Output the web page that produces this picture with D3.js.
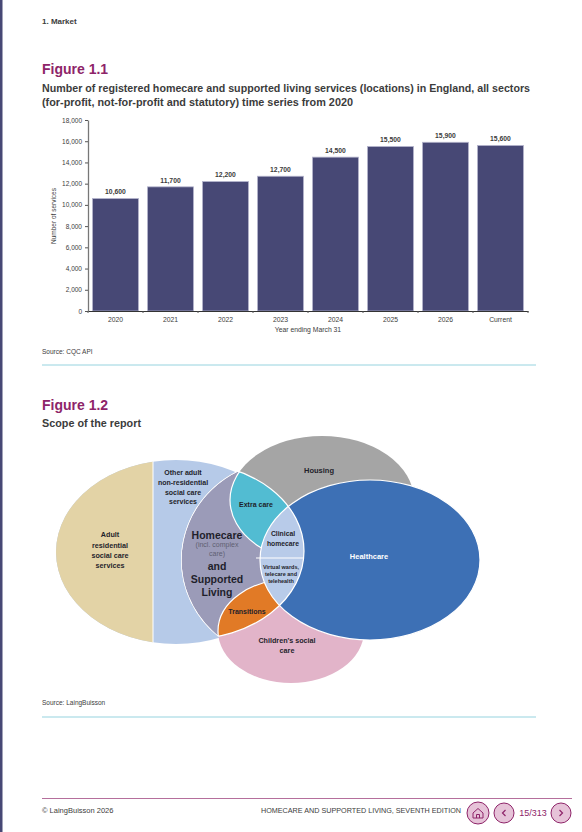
<!DOCTYPE html>
<html>
<head>
<meta charset="utf-8">
<script src="https://cdn.jsdelivr.net/npm/d3@7"></script>
<style>
  html, body { margin: 0; padding: 0; background: #fff; }
  svg { display: block; }
  text { font-family: "Liberation Sans Narrow", "Liberation Sans", sans-serif; fill: #3c3c3c; }
</style>
</head>
<body>
<svg id="page" width="582" height="832"></svg>
<script>
const years = ['2020', '2021', '2022', '2023', '2024', '2025', '2026', 'Current'];
const services = [10600, 11700, 12200, 12700, 14500, 15500, 15900, 15600];
const yTicks = [0, 2000, 4000, 6000, 8000, 10000, 12000, 14000, 16000, 18000];

// venn outlines, in diagram units
const adult = { cx: 120, cy: 116, rx: 120, ry: 92 };
const housing = { cx: 266, cy: 64, rx: 92, ry: 64 };
const children = { cx: 235, cy: 195, rx: 73, ry: 52 };
const healthcare = { cx: 314, cy: 124, rx: 110, ry: 80 };
const homeLeft = { cx: 229, cy: 124, rx: 104, ry: 100 };
const homeRight = { cx: 134, cy: 115, rx: 114, ry: 88 };
const adultSplit = 97;

const navy = '#474875', plum = '#8e2469', teal = '#96d3df';
const svg = d3.select('#page');

svg.append('rect').attr('width', 2.5).attr('height', 832).attr('fill', navy);

function label(parent, str, x, y, size, opts = {}) {
  const t = parent.append('text')
    .attr('x', x).attr('y', y)
    .attr('dy', '0.35em')
    .attr('text-anchor', opts.anchor || 'middle')
    .attr('font-size', size)
    .attr('font-weight', opts.weight || 'normal')
    .style('fill', opts.fill || '#3c3c3c')
    .text(str);
  if (opts.fit) t.attr('textLength', opts.fit).attr('lengthAdjust', 'spacingAndGlyphs');
  return t;
}
const bold = { weight: 'bold' };
const leftBold = { anchor: 'start', weight: 'bold' };

label(svg, '1. Market', 42, 21.5, 8, leftBold);
label(svg, 'Figure 1.1', 42, 69, 14, { anchor: 'start', weight: 'bold', fill: plum });
label(svg, 'Number of registered homecare and supported living services (locations) in England, all sectors', 42, 87.5, 11.5, { anchor: 'start', weight: 'bold', fit: 488 });
label(svg, '(for-profit, not-for-profit and statutory) time series from 2020', 42, 102, 11.5, { anchor: 'start', weight: 'bold', fit: 311 });

// bar chart
const x = d3.scaleBand().domain(years).range([88, 528]).paddingInner(0.164).paddingOuter(0.082);
const y = d3.scaleLinear().domain([0, 18000]).range([311, 120]);

const yAxis = svg.append('g').attr('transform', 'translate(88,0)')
  .call(d3.axisLeft(y).tickValues(yTicks).tickSize(3).tickSizeOuter(0).tickFormat(d3.format(',')));
yAxis.select('.domain').attr('stroke', '#777').attr('stroke-width', 1.3);
yAxis.selectAll('.tick line').attr('stroke', '#555');
yAxis.selectAll('text').attr('font-size', 6.5).attr('font-family', null).attr('x', -6);

svg.selectAll('rect.bar').data(services).enter().append('rect')
  .attr('class', 'bar')
  .attr('x', (d, i) => x(years[i]))
  .attr('y', d => y(d))
  .attr('width', x.bandwidth())
  .attr('height', d => y(0) - y(d))
  .attr('fill', navy)
  .attr('stroke', '#b4b4cc')
  .attr('stroke-width', 0.8);

const xAxis = svg.append('g').attr('transform', 'translate(0,311)')
  .call(d3.axisBottom(x).tickSize(0));
xAxis.select('.domain').attr('stroke', '#333').attr('stroke-width', 1.2);
xAxis.selectAll('text').attr('font-size', 6.8).attr('dy', 0).attr('y', 10.5);
svg.selectAll('line.xtick').data(d3.range(years.length + 1)).enter().append('line')
  .attr('class', 'xtick')
  .attr('x1', i => 88 + i * x.step()).attr('x2', i => 88 + i * x.step())
  .attr('y1', 311).attr('y2', 313)
  .attr('stroke', '#555');

services.forEach((d, i) => {
  label(svg, d3.format(',')(d), x(years[i]) + x.bandwidth() / 2, y(d) - 6.5, 6.8, bold);
});
label(svg, 'Year ending March 31', 308, 329.5, 6.8);
label(svg, 'Number of services', 0, 0, 6.5).attr('transform', 'translate(54,216) rotate(-90)');
label(svg, 'Source: CQC API', 42, 351.5, 6.5, { anchor: 'start' });
svg.append('line').attr('x1', 42).attr('x2', 536).attr('y1', 365).attr('y2', 365).attr('stroke', teal).attr('stroke-width', 1);

// venn
label(svg, 'Figure 1.2', 42, 405, 14, { anchor: 'start', weight: 'bold', fill: plum });
label(svg, 'Scope of the report', 42, 423, 11.5, { anchor: 'start', weight: 'bold', fit: 99 });

const vx = d3.scaleLinear().domain([0, 424]).range([56, 480]);
const vy = d3.scaleLinear().domain([0, 247]).range([436, 683]);
const defs = svg.append('defs');

function drawEllipse(parent, e) {
  return parent.append('ellipse')
    .attr('cx', vx(e.cx)).attr('cy', vy(e.cy))
    .attr('rx', e.rx).attr('ry', e.ry);
}

drawEllipse(defs.append('clipPath').attr('id', 'clip-left'), homeLeft);
drawEllipse(defs.append('clipPath').attr('id', 'clip-right').attr('clip-path', 'url(#clip-left)'), homeRight);
defs.append('clipPath').attr('id', 'clip-adult-split').append('rect')
  .attr('x', vx(adult.cx - adult.rx)).attr('y', vy(0))
  .attr('width', vx(adultSplit) - vx(adult.cx - adult.rx)).attr('height', vy(247) - vy(0));

const venn = svg.append('g');
function paint(sel, fill) {
  return sel.attr('fill', fill).attr('stroke', '#fff').attr('stroke-width', 1.2);
}

paint(drawEllipse(venn, adult), '#b6cae8').attr('stroke', 'none');
drawEllipse(venn.append('g').attr('clip-path', 'url(#clip-adult-split)'), adult).attr('fill', '#e3d3a6');
venn.append('line')
  .attr('x1', vx(adultSplit)).attr('x2', vx(adultSplit)).attr('y1', vy(20)).attr('y2', vy(215))
  .attr('stroke', '#fff').attr('stroke-width', 1);
paint(drawEllipse(venn, housing), '#a5a5a5').attr('stroke', 'none');
paint(drawEllipse(venn, children), '#e2b4c9').attr('stroke', 'none');
paint(drawEllipse(venn, healthcare), '#3d70b5');

const inHome = venn.append('g').attr('clip-path', 'url(#clip-right)');
paint(drawEllipse(inHome, homeLeft), '#9b9bb8');
paint(drawEllipse(inHome, housing), '#52bcd2');
paint(drawEllipse(inHome, children), '#e17a26');
paint(drawEllipse(inHome, healthcare), '#b8cbe9');
inHome.append('line')
  .attr('x1', vx(200)).attr('x2', vx(250)).attr('y1', 558).attr('y2', 558)
  .attr('stroke', '#fff').attr('stroke-width', 1.2);
// white outline around the homecare shape
drawEllipse(venn.append('g').attr('clip-path', 'url(#clip-left)'), homeRight)
  .attr('fill', 'none').attr('stroke', '#fff').attr('stroke-width', 1.2);
drawEllipse(venn.append('g').attr('clip-path', 'url(#clip-right)'), homeLeft)
  .attr('fill', 'none').attr('stroke', '#fff').attr('stroke-width', 1.2);

const dark = '#1f1f2b';
const small = { weight: 'bold', fill: dark };
[['Adult', 534], ['residential', 545], ['social care', 555], ['services', 565]]
  .forEach(d => label(svg, d[0], 110, d[1], 7.2, small));
[['Other adult', 473], ['non-residential', 483], ['social care', 492.5], ['services', 501.5]]
  .forEach(d => label(svg, d[0], 183, d[1], 7, small));
label(svg, 'Homecare', 217, 535, 10.5, small);
label(svg, '(incl. complex', 217, 545, 7, { fill: '#5f5f72' });
label(svg, 'care)', 217, 554, 7, { fill: '#5f5f72' });
[['and', 566], ['Supported', 579], ['Living', 592]]
  .forEach(d => label(svg, d[0], 217, d[1], 10.5, small));
label(svg, 'Extra care', 256, 504.5, 7, small);
label(svg, 'Clinical', 283, 534, 6.8, small);
label(svg, 'homecare', 283, 543.5, 6.8, small);
[['Virtual wards,', 567], ['telecare and', 574], ['telehealth', 581]]
  .forEach(d => label(svg, d[0], 281, d[1], 5.5, small));
label(svg, 'Transitions', 247, 611.5, 7, small);
label(svg, 'Housing', 319, 470, 7.5, small);
label(svg, 'Healthcare', 369, 556, 7.5, { weight: 'bold', fill: '#fff' });
label(svg, "Children's social", 287, 640, 7.2, small);
label(svg, 'care', 287, 650.5, 7.2, small);

label(svg, 'Source: LaingBuisson', 42, 703, 6.5, { anchor: 'start' });
svg.append('line').attr('x1', 42).attr('x2', 536).attr('y1', 717).attr('y2', 717).attr('stroke', teal).attr('stroke-width', 1);

// footer
svg.append('line').attr('x1', 42).attr('x2', 572).attr('y1', 798.5).attr('y2', 798.5).attr('stroke', '#b56f9c').attr('stroke-width', 1.2);
label(svg, '\u00a9 LaingBuisson 2026', 42, 810.5, 7.5, { anchor: 'start' });
label(svg, 'HOMECARE AND SUPPORTED LIVING, SEVENTH EDITION', 461, 810.5, 7.5, { anchor: 'end', fit: 200 });
label(svg, '15/313', 533, 813, 9, { fill: plum });

[[478, 11], [504, 10], [561, 10]].forEach(c => {
  svg.append('circle').attr('cx', c[0]).attr('cy', 813).attr('r', c[1])
    .attr('fill', '#e6c3d8').attr('stroke', plum).attr('stroke-width', 1);
});
svg.append('path').attr('d', 'M473 813 L478 808.5 L483 813 V818 H473 Z M476.5 818 V814.5 H479.5 V818')
  .attr('fill', 'none').attr('stroke', plum).attr('stroke-width', 1);
svg.append('path').attr('d', 'M505.5 810 L502.5 813 L505.5 816').attr('fill', 'none').attr('stroke', plum).attr('stroke-width', 1.2);
svg.append('path').attr('d', 'M559.5 810 L562.5 813 L559.5 816').attr('fill', 'none').attr('stroke', plum).attr('stroke-width', 1.2);
</script>
</body>
</html>
